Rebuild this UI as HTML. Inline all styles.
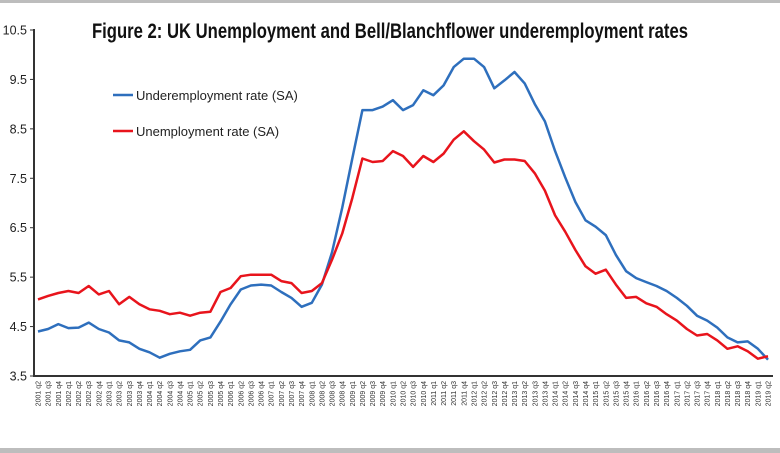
<!DOCTYPE html>
<html><head><meta charset="utf-8"><style>
html,body{margin:0;padding:0;background:#fff;}
svg{display:block;}
</style></head><body>
<svg id="c" width="780" height="453" xmlns="http://www.w3.org/2000/svg" font-family="Liberation Sans, sans-serif">
<rect x="0" y="0" width="780" height="3" fill="#bdbdbd"/>
<rect x="0" y="448" width="780" height="5" fill="#bdbdbd"/>
<text x="390" y="38" text-anchor="middle" font-family="Liberation Sans Narrow, Liberation Sans, sans-serif" font-weight="bold" font-size="21" fill="#111" textLength="596" lengthAdjust="spacingAndGlyphs">Figure 2: UK Unemployment and Bell/Blanchflower underemployment rates</text>
<g id="g"></g>
<line x1="113" y1="95" x2="133" y2="95" stroke="#2e6fbd" stroke-width="2.5"/>
<text x="136" y="100" font-size="13" fill="#222">Underemployment rate (SA)</text>
<line x1="113" y1="131" x2="133" y2="131" stroke="#e8141c" stroke-width="2.5"/>
<text x="136" y="136" font-size="13" fill="#222">Unemployment rate (SA)</text>
</svg>
<script>
var U=[4.4,4.45,4.55,4.47,4.48,4.58,4.45,4.38,4.22,4.18,4.05,3.98,3.87,3.95,4.0,4.03,4.22,4.28,4.6,4.95,5.25,5.33,5.35,5.33,5.2,5.08,4.9,4.98,5.35,6.0,6.9,7.9,8.88,8.88,8.95,9.08,8.88,8.98,9.28,9.18,9.38,9.75,9.92,9.92,9.75,9.32,9.48,9.65,9.42,9.0,8.65,8.05,7.52,7.02,6.65,6.52,6.35,5.95,5.62,5.48,5.4,5.32,5.22,5.08,4.92,4.72,4.62,4.48,4.28,4.18,4.2,4.05,3.83];
var R=[5.05,5.12,5.18,5.22,5.18,5.32,5.15,5.22,4.95,5.1,4.95,4.85,4.82,4.75,4.78,4.72,4.78,4.8,5.2,5.28,5.52,5.55,5.55,5.55,5.42,5.38,5.18,5.22,5.38,5.85,6.38,7.1,7.9,7.83,7.85,8.05,7.95,7.73,7.95,7.83,8.0,8.28,8.45,8.25,8.08,7.82,7.88,7.88,7.85,7.6,7.25,6.75,6.42,6.05,5.72,5.57,5.65,5.35,5.08,5.1,4.97,4.9,4.75,4.62,4.45,4.32,4.35,4.22,4.05,4.1,4.0,3.85,3.9];
var g=document.getElementById('g'),s='';
function X(i){return 38+i*(730/72);}
function Y(v){return 376-(v-3.5)*49.43;}
s+='<line x1="34" y1="29" x2="34" y2="377" stroke="#333" stroke-width="2"/>';
s+='<line x1="33" y1="376" x2="773" y2="376" stroke="#333" stroke-width="2"/>';
[10.5,9.5,8.5,7.5,6.5,5.5,4.5,3.5].forEach(function(v){var y=Y(v);
s+='<line x1="30" y1="'+y+'" x2="34" y2="'+y+'" stroke="#333" stroke-width="1"/>';
s+='<text x="27" y="'+(y+4.5)+'" text-anchor="end" font-size="12.5" fill="#222">'+v.toFixed(1)+'</text>';});
for(var i=0;i<73;i++){var q=(i+1)%4+1,yr=2001+Math.floor((i+1)/4);var x=X(i);
s+='<text transform="translate('+(x+2.5)+',381) rotate(-90)" text-anchor="end" font-size="7" fill="#333">'+yr+' q'+q+'</text>';}
function P(d,c){var p=d.map(function(v,i){return X(i).toFixed(1)+','+Y(v).toFixed(1)}).join(' ');
return '<polyline points="'+p+'" fill="none" stroke="'+c+'" stroke-width="2.5" stroke-linejoin="round"/>';}
s+=P(U,'#2e6fbd')+P(R,'#e8141c');
g.innerHTML=s;
</script>
</body></html>
